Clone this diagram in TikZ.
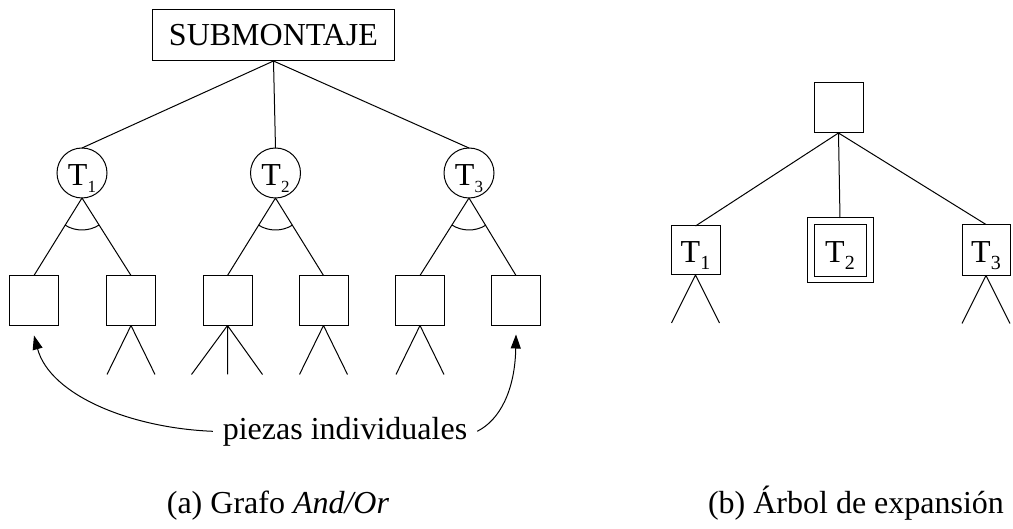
\documentclass[tikz,border=0pt]{standalone}
\usepackage{fontspec}
\setmainfont{Liberation Serif}
\usetikzlibrary{calc,arrows.meta}

% T with a lowered index (index size as argument 1)
\newcommand\Tsub[2]{T\raisebox{-7pt}{\fontsize{#1}{#1}\selectfont #2}}
% arc across the two branches that leave a node
\newcommand\andarc[3]{%
  \draw[line] let \p1=($(#2.north)-(#1.south)$), \p2=($(#3.north)-(#1.south)$),
    \n1={atan2(\y1,\x1)}, \n2={atan2(\y2,\x2)} in
    ($(#1.south)+(\n2:32pt)$) arc[start angle=\n2, end angle=\n1, radius=32pt];}

\begin{document}
\begin{tikzpicture}[x=1pt,y=1pt,
  every node/.style={inner sep=0pt, outer sep=0pt},
  line/.style={line width=1pt},
  txt/.style={font=\fontsize{32}{38}\selectfont},
  topbox/.style={draw, line width=1pt, minimum width=242pt, minimum height=51pt, txt},
  task/.style={draw, circle, line width=1pt, minimum size=50pt,
    font=\fontsize{32}{38}\selectfont, text height=25pt, text depth=0pt},
  leaf/.style={draw, line width=1pt, minimum width=49pt, minimum height=50pt},
  tbox/.style={draw, line width=1pt, minimum width=49pt, minimum height=49pt,
    font=\fontsize{32}{38}\selectfont, text height=24.5pt, text depth=0pt},
  arr/.style={line, -{Triangle[length=14pt,width=10pt]}}
]
\useasboundingbox (0,0) rectangle (1013,-529);

% ---------- (a) And/Or graph ----------
\node[topbox] (sub) at (273.5,-35.5) {SUBMONTAJE};

\node[task] (t1) at (82,-173)   {\Tsub{17}{1}};
\node[task] (t2) at (275.5,-173) {\Tsub{17}{2}};
\node[task] (t3) at (469,-173)  {\Tsub{17}{3}};

\foreach \n/\x in {1/34, 2/131, 3/227.5, 4/323.5, 5/420, 6/516}
  \node[leaf] (b\n) at (\x,-300.5) {};

\draw[line] (sub.south) -- (t1.north)
            (sub.south) -- (t2.north)
            (sub.south) -- (t3.north);

\draw[line] (t1.south) -- (b1.north) (t1.south) -- (b2.north)
            (t2.south) -- (b3.north) (t2.south) -- (b4.north)
            (t3.south) -- (b5.north) (t3.south) -- (b6.north);

\andarc{t1}{b1}{b2}
\andarc{t2}{b3}{b4}
\andarc{t3}{b5}{b6}

% branches below the composite parts
\draw[line] (b2.south) -- ++(-24,-49) (b2.south) -- ++(24,-49);
\draw[line] (b3.south) -- ++(-36,-49) (b3.south) -- ++(0,-49) (b3.south) -- ++(35,-49);
\draw[line] (b4.south) -- ++(-24,-49) (b4.south) -- ++(24,-49);
\draw[line] (b5.south) -- ++(-24,-49) (b5.south) -- ++(24,-49);

\node[txt, anchor=base, inner xsep=10pt] (pz) at (345,-439) {piezas individuales};
\coordinate (aL) at ([yshift=-10pt]b1.south);
\coordinate (aR) at ([yshift=-9pt]b6.south);
\draw[arr] (pz.west) .. controls (130,-428) and (50,-395) .. (aL);
\draw[arr] (pz.east) .. controls (500,-420) and (515,-390) .. (aR);

\node[txt, anchor=base] (capa) at (278,-514) {(a) Grafo \textit{And/Or}};

% ---------- (b) expansion tree ----------
\node[leaf] (r0) at (838.5,-108) {};
\node[tbox] (r1) at (695.5,-250.5) {\Tsub{20}{1}};
\node[tbox, minimum width=52pt, minimum height=52pt] (r2) at (840,-250.5) {\Tsub{20}{2}};
\node[draw, line width=1pt, minimum width=66pt, minimum height=65pt] (r2o) at (840,-250.5) {};
\node[tbox, minimum width=48pt, minimum height=51pt] (r3) at (986,-250) {\Tsub{20}{3}};

\draw[line] (r0.south) -- (r1.north)
            (r0.south) -- (r2o.north)
            (r0.south) -- (r3.north);

\draw[line] (r1.south) -- ++(-24,-48) (r1.south) -- ++(24,-48);
\draw[line] (r3.south) -- ++(-24,-48) (r3.south) -- ++(24,-48);

\node[txt, anchor=base] (capb) at (856,-514) {(b) Árbol de expansión};
\end{tikzpicture}
\end{document}
